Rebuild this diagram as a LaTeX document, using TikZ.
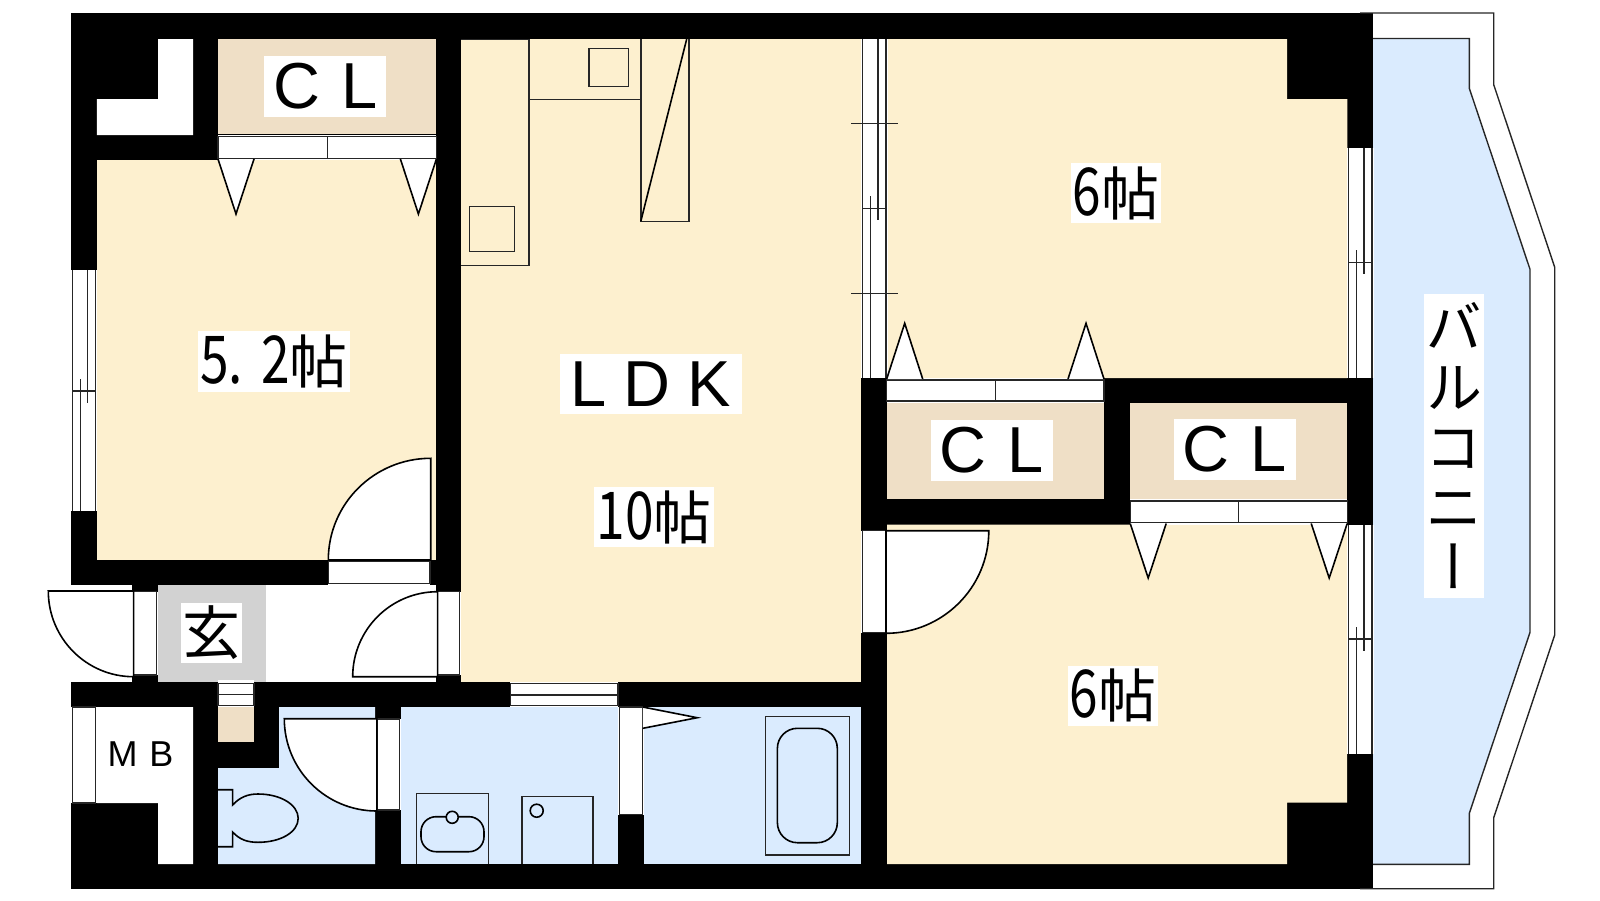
\documentclass[tikz,border=0pt]{standalone}
\usepackage{fontspec}
\setmainfont{Liberation Sans}
\newfontfamily\jpfont{Noto Sans CJK JP}
\newfontfamily\jpnarrow[FakeStretch=0.78]{Noto Sans CJK JP}
\newfontfamily\jpvert[RawFeature=+vert]{Noto Sans CJK JP}
\definecolor{roomcream}{HTML}{FDF0CF}
\definecolor{closetbeige}{HTML}{EFDFC6}
\definecolor{wetblue}{HTML}{DAEBFE}
\definecolor{entrygray}{HTML}{D2D2D2}
\tikzset{
	thinline/.style={draw=black!85,line width=1.4pt},
	fitline/.style={draw=black,line width=1.6pt},
	leaf/.style={fill=white,draw=black,line width=1.6pt},
	roomlabel/.style={fill=white,text=black,inner sep=0pt,align=center,font=\jpfont\fontsize{58}{58}\selectfont},
	cllabel/.style={fill=white,text=black,inner sep=0pt,font=\fontsize{65}{65}\selectfont,minimum width=122pt,minimum height=61pt},
}
% tall and narrow figures of the room sizes
\newcommand{\matsnum}[1]{{\jpnarrow\fontsize{66}{58}\selectfont #1}}
% hinge, end of the leaf, end of the arc
\newcommand{\doorleaf}[6]{
	\filldraw[leaf] (#1,#2) -- (#3,#4)
		.. controls ({#3+0.5523*(#5-#1)},{#4+0.5523*(#6-#2)}) and ({#5+0.5523*(#3-#1)},{#6+0.5523*(#4-#2)}) .. (#5,#6) -- cycle;
}
\begin{document}
\begin{tikzpicture}[x=1pt,y=-1pt]
	\useasboundingbox (0,0) rectangle (1600,900);
	
	% Walls first, the rooms are cut out of them
	\fill[black] (71,13) rectangle (1373,888.7);
	\fill[white] (70,585) rectangle (132,682);
	
	% Balcony
	\filldraw[fill=wetblue,thinline] (1373,38.5)--(1469.3,38.5)--(1469.3,88.3)--(1530,269.3)--(1530,632.3)--(1469.3,813.3)--(1469.3,864.3)--(1373,864.3);
	\draw[thinline] (1360,13)--(1493.7,13)--(1493.7,84.7)--(1554.7,267.3)--(1554.7,635)--(1493.7,817.7)--(1493.7,888.7)--(1360,888.7);
	
	% Rooms
	\fill[roomcream] (96.9,159.7) rectangle (436.4,560);
	\fill[roomcream] (460.9,39) rectangle (861.2,682);
	\fill[roomcream] (886.7,39)--(1287,39)--(1287,99)--(1347.3,99)--(1347.3,378)--(886.7,378)--cycle;
	\fill[roomcream] (887,524.7)--(1347.2,524.7)--(1347.2,802.7)--(1287,802.7)--(1287,864)--(887,864)--cycle;
	
	% Closets
	\fill[closetbeige] (218,39) rectangle (436.4,134.3);
	\fill[closetbeige] (886.7,403.3) rectangle (1104,499);
	\fill[closetbeige] (1130.2,403) rectangle (1347.2,499);
	\fill[closetbeige] (218,707) rectangle (254,741.7);
	
	% White shafts and the hall
	\fill[white] (158.2,39)--(193.2,39)--(193.2,135)--(96.9,135)--(96.9,99)--(158.2,99)--cycle;
	\fill[white] (96.9,707)--(193.2,707)--(193.2,864)--(158.2,864)--(158.2,803)--(96.9,803)--cycle;
	\fill[white] (266,585) rectangle (436.4,682);
	\fill[entrygray] (158.2,585) rectangle (266,682);
	
	% Toilet, wash room and bath
	\fill[wetblue] (218,768)--(279,768)--(279,707)--(375,707)--(375,864)--(218,864)--cycle;
	\fill[wetblue] (401,707) rectangle (618,864);
	\fill[wetblue] (644.2,707) rectangle (861.2,864);
	
	% Sliding windows and the partition
	\foreach \xw/\ytop/\ybot/\ymid in {72.3/270/511/391, 862.6/39/378/208.3, 1348.7/147.7/377.7/262.3, 1348.7/525/754/639}{
		\fill[white] (\xw-1.5,\ytop) rectangle (\xw+24.9,\ybot);
		\draw[thinline] (\xw,\ytop) -- (\xw,\ybot);
		\draw[thinline] (\xw+23.4,\ytop) -- (\xw+23.4,\ybot);
		\draw[thinline] (\xw,\ymid) -- (\xw+23.4,\ymid);
		\draw[thinline] (\xw+15.4,\ytop) -- (\xw+15.4,\ymid+12);
		\draw[thinline] (\xw+8,\ymid-12) -- (\xw+8,\ybot);
	}
	\draw[thinline] (851,123.3) -- (898,123.3);
	\draw[thinline] (851,293.7) -- (898,293.7);
	
	% Closet doors with their stops
	\foreach \xa/\xb/\ya/\yb/\ybase/\yapex in {218/436.4/136.7/158.3/159/214, 886.7/1104/380/401/379/323.3, 1130.2/1347.2/501/522.7/523.5/578}{
		\fill[white] (\xa,\ya-2) rectangle (\xb,\yb+2);
		\draw[thinline] (\xa,\ya) rectangle (\xb,\yb);
		\draw[thinline] ({(\xa+\xb)/2},\ya) -- ({(\xa+\xb)/2},\yb);
		\filldraw[leaf] (\xa,\ybase)--(\xa+18,\yapex)--(\xa+36,\ybase);
		\filldraw[leaf] (\xb-36,\ybase)--(\xb-18,\yapex)--(\xb,\ybase);
	}
	
	% Door openings
	\fill[white] (328.3,560) rectangle (430,586);
	\draw[thinline] (328.3,561.3) rectangle (430,583.3);
	\fill[white] (132,592) rectangle (158.2,675);
	\draw[thinline] (133.6,591.7) rectangle (156.4,675);
	\fill[white] (436.4,592) rectangle (461,675);
	\draw[thinline] (437.6,591.7) rectangle (459.7,675);
	\fill[white] (861.2,530.7) rectangle (887,632.7);
	\draw[thinline] (862.6,530.7) rectangle (885.7,632.7);
	\fill[white] (375,719) rectangle (401,810);
	\draw[thinline] (376.8,719) rectangle (399.6,810);
	\fill[white] (618,707) rectangle (644.2,814.7);
	\draw[thinline] (619.7,707) rectangle (642.2,814.7);
	\fill[white] (510.2,682) rectangle (618,707);
	\draw[thinline] (510.2,683.3) rectangle (618,705.7);
	\draw[thinline] (510.2,695) -- (618,695);
	\fill[white] (218,680) rectangle (254,707);
	\draw[thinline] (218,683.3) rectangle (254,705.7);
	\draw[thinline] (218,694.3) -- (254,694.3);
	\fill[white] (71,707) rectangle (96.9,803);
	\draw[thinline] (72.4,707) rectangle (95.5,803);
	
	% Door leaves
	\doorleaf{430.7}{560}{430.7}{458.3}{328.3}{560}
	\doorleaf{133.6}{591}{48.3}{591}{133.6}{676.7}
	\doorleaf{437.6}{676.7}{352.7}{676.7}{437.6}{591.7}
	\doorleaf{886}{530.7}{988.8}{530.7}{886}{633.3}
	\doorleaf{376.8}{718.7}{284.3}{718.7}{376.8}{811}
	\filldraw[leaf] (642.8,707)--(697.2,717.7)--(642.8,728.3);
	
	% Kitchen
	\draw[thinline] (461,39.5)--(528.9,39.5)--(528.9,265.7)--(461,265.7);
	\draw[thinline] (469.7,206.3) rectangle (514.2,251.7);
	\draw[thinline] (528.9,99.3) -- (640.8,99.3);
	\draw[thinline] (589.1,48.3) rectangle (628.2,86.7);
	\draw[thinline] (640.8,39)--(640.8,221.3)--(688.8,221.3)--(688.8,39);
	\draw[fitline] (686.7,39) -- (640.8,221.3);
	
	% Toilet
	\draw[fitline] (218,789.7)--(232.6,789.7)--(232.6,805)
		.. controls (240,797) and (248,794) .. (258,794)
		.. controls (281,794) and (298.2,805) .. (298.2,818.3)
		.. controls (298.2,832) and (281,842.3) .. (258,842.3)
		.. controls (248,842.3) and (240,840) .. (232.6,832)
		--(232.6,846.7)--(218,846.7);
	
	% Basin and washer
	\draw[thinline] (416.5,864)--(416.5,793.7)--(488.2,793.7)--(488.2,864);
	\draw[fitline,rounded corners=15pt] (421,816.7) rectangle (484,851.7);
	\filldraw[fill=wetblue,fitline] (452.2,817.3) circle (6pt);
	\draw[thinline] (522.1,864)--(522.1,796.3)--(592.8,796.3)--(592.8,864);
	\draw[fitline] (536.7,810.7) circle (6.5pt);
	
	% Bath tub
	\draw[thinline] (765.2,716.3) rectangle (849.2,855);
	\draw[fitline,rounded corners=20pt] (777.4,728.3) rectangle (837.3,842.7);
	
	% Labels
	\node[cllabel] (clnorth) at (325.3,86.5) {C\hspace{21pt}L};
	\node[cllabel] (clmiddle) at (992,450.5) {C\hspace{21pt}L};
	\node[cllabel] (cleast) at (1235,449.5) {C\hspace{21pt}L};
	\node[fill=white,inner sep=0pt,font=\fontsize{65}{65}\selectfont,minimum width=182pt,minimum height=60pt] (ldk) at (651,384) {L\hspace{17pt}D\hspace{17pt}K};
	\node[roomlabel,minimum width=120pt,minimum height=60pt] (ldkmats) at (654,517) {\matsnum{10}帖};
	\node[roomlabel,minimum width=90pt,minimum height=60pt] (upperroom) at (1116,193) {\matsnum{6}帖};
	\node[roomlabel,minimum width=90pt,minimum height=60pt] (lowerroom) at (1113,695.5) {\matsnum{6}帖};
	\node[roomlabel,minimum width=152pt,minimum height=61pt] (westroom) at (274,361.3) {\matsnum{5.\hspace{18pt}2}帖};
	\node[roomlabel,minimum width=61pt,minimum height=60pt] (genkan) at (211.5,633) {玄};
	\node[text=black,inner sep=0pt,font=\fontsize{36}{36}\selectfont] (mb) at (140.5,754) {M\hspace{12pt}B};
	\node[fill=white,inner sep=0pt,align=center,minimum width=60pt,minimum height=304pt,font=\jpvert\fontsize{57}{60}\selectfont] (balcony) at (1454,445.8) {バ\\ル\\コ\\ニ\\ー};
\end{tikzpicture}
\end{document}
